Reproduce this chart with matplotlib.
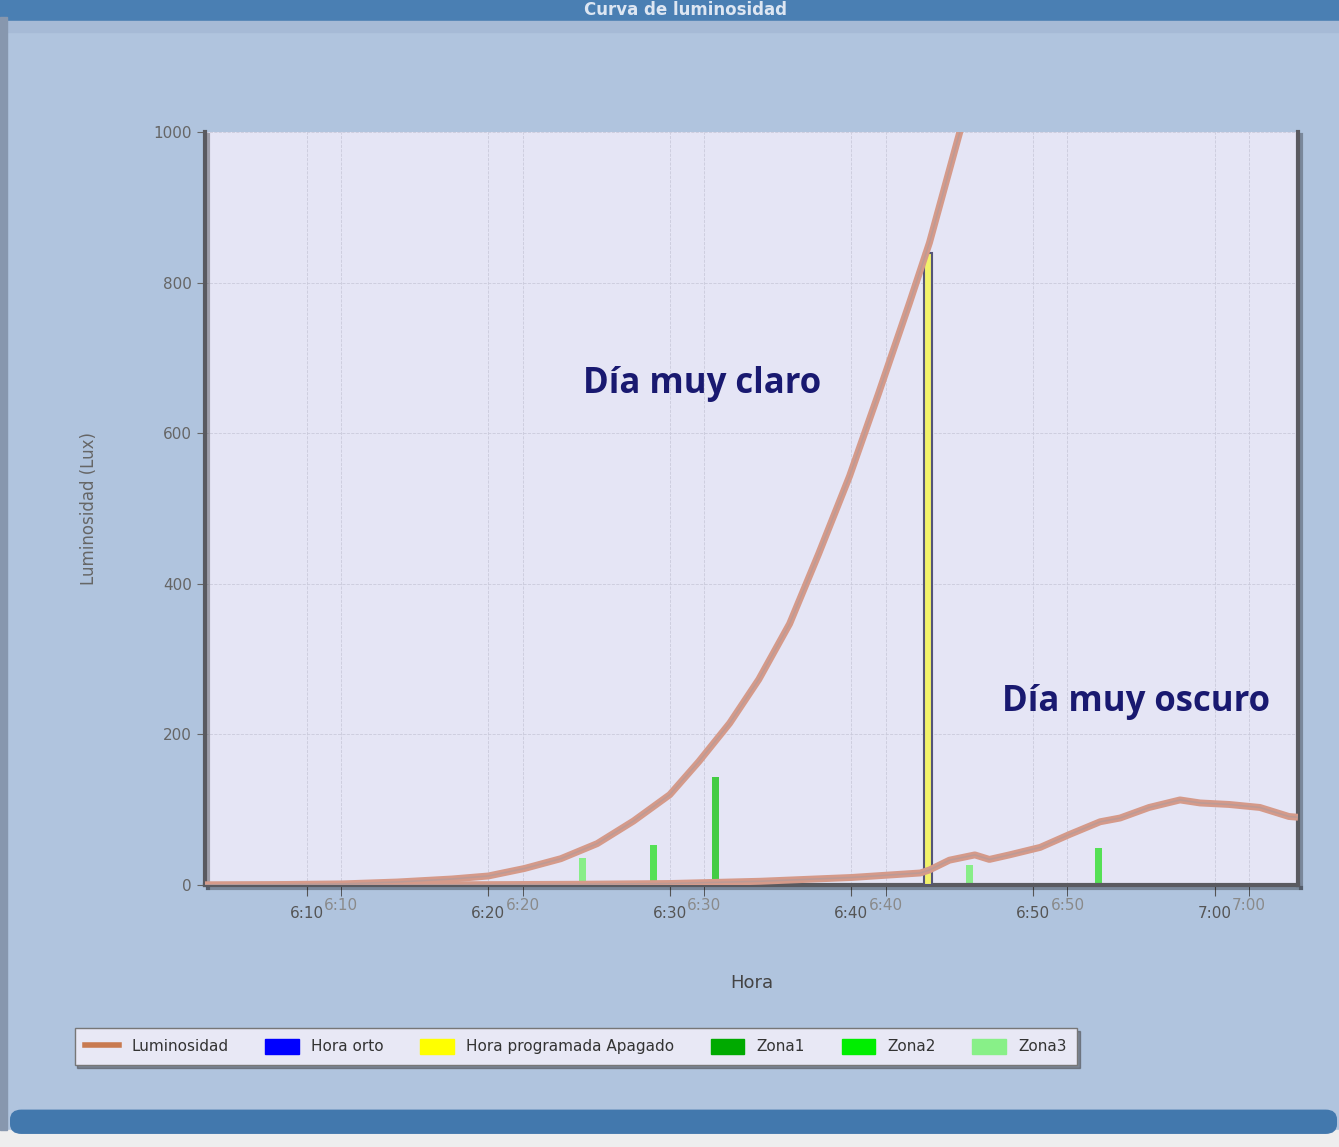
import matplotlib
import matplotlib.pyplot as plt
from matplotlib.patches import Rectangle, FancyBboxPatch, Patch
from matplotlib.lines import Line2D
import matplotlib.patheffects as pe

matplotlib.use("Agg")

# minutes after 6:00
claro_t = [4.4, 8, 12, 15, 18, 20, 22, 24, 26, 28, 30, 31.6, 33.3, 34.9, 36.6, 38.2, 39.9, 41.5, 43.2, 44.3, 46.2]
claro_v = [0, 0.5, 1.5, 4, 8, 12, 22, 35, 55, 85, 120, 164, 215, 273, 347, 440, 543, 653, 773, 853, 1020]

oscuro_t = [4.4, 15, 25, 30, 35, 38, 40, 43.8, 44.3, 45.4, 46.8, 47.6, 48.7, 50.4, 52.0, 53.7, 54.8, 56.4, 58.1, 59.2, 60.8, 62.5, 64.1, 64.6]
oscuro_v = [0, 0, 1, 2, 5, 8, 10, 16, 20, 33, 40, 34, 40, 50, 67, 84, 89, 103, 113, 109, 107, 103, 91, 90]

zona1_t = [32.5]
zona1_v = [144]
zona2_t = [29.1, 53.6]
zona2_v = [53, 49]
zona3_t = [25.2, 46.5]
zona3_v = [36, 27]
apagado_t = [44.2]
apagado_v = [840]

tick_min = [10, 20, 30, 40, 50, 60]
tick_lbl = ["6:10", "6:20", "6:30", "6:40", "6:50", "7:00"]
shift = 1.9  # second overlaid chart is offset a bit

bg = "#b0c4de"
fig = plt.figure(figsize=(13.39, 11.47), dpi=100, facecolor=bg)

# frame decorations
fig.patches.append(Rectangle((0, 0.982), 1, 0.02, transform=fig.transFigure, color="#4a7fb3", zorder=0))
fig.patches.append(Rectangle((0, 0.972), 1, 0.01, transform=fig.transFigure, color="#a6bad6", zorder=0))
fig.patches.append(Rectangle((0, 0), 1, 0.015, transform=fig.transFigure, color="#eeeeee", zorder=0))
fig.patches.append(FancyBboxPatch((0.008, 0.012), 0.99, 0.02, boxstyle="round,pad=0.0,rounding_size=0.008",
                                  transform=fig.transFigure, color="#4278ad", zorder=0))
fig.patches.append(Rectangle((0, 0.015), 0.005, 0.97, transform=fig.transFigure, color="#8797ae", zorder=0))
fig.text(0.512, 0.9915, "Curva de luminosidad", color="#dde6f2", fontsize=12, fontweight="bold",
         ha="center", va="center")

ax = fig.add_axes([0.1531, 0.2284, 0.8163, 0.6565])
ax.set_facecolor("#e5e5f5")

ax.bar(zona3_t, zona3_v, width=0.4, color="#88ee88", zorder=2)
ax.bar(zona2_t, zona2_v, width=0.4, color="#55e055", zorder=2)
ax.bar(zona1_t, zona1_v, width=0.4, color="#44cc44", zorder=2)
ax.bar(apagado_t, apagado_v, width=0.45, color="#f2f26a", edgecolor="#555577", linewidth=1.5, zorder=3)

for t, v in [(claro_t, claro_v), (oscuro_t, oscuro_v)]:
    ax.plot(t, v, color="#d59a8a", linewidth=5, zorder=4, solid_capstyle="butt")
    ax.plot(t, v, color="#b49a9a", linewidth=1.2, zorder=5, alpha=0.7)

ax.set_xlim(4.4, 64.6)
ax.set_ylim(0, 1000)
ax.set_yticks([0, 200, 400, 600, 800, 1000])
ax.set_xticks(tick_min)
ax.set_xticklabels(tick_lbl)
ax.set_xticks([m + shift for m in tick_min], minor=True)
ax.grid(True, which="both", color="#cacadb", linestyle="--", linewidth=0.6)
ax.tick_params(axis="x", which="major", colors="#555555", labelsize=11, length=8, pad=7, direction="out")
ax.tick_params(axis="x", which="minor", colors="#444444", length=8, direction="out")
ax.tick_params(axis="y", colors="#666666", labelsize=11, length=6)

sec = ax.secondary_xaxis("bottom")
sec.set_xticks([m + shift for m in tick_min])
sec.set_xticklabels(tick_lbl)
sec.tick_params(colors="#8a8a8a", labelsize=11, length=0, pad=9)
sec.spines["bottom"].set_visible(False)

for s in ["left", "bottom", "right"]:
    ax.spines[s].set_color("#5a5a60")
    ax.spines[s].set_linewidth(3)
    ax.spines[s].set_path_effects([pe.SimpleLineShadow(offset=(2, -2), alpha=0.3), pe.Normal()])
ax.spines["top"].set_visible(False)

ax.set_xlabel("Hora", color="#444444", fontsize=13, labelpad=38)
ax.set_ylabel("Luminosidad (Lux)", color="#666666", fontsize=12, labelpad=40)

ax.text(25.2, 665, "Día muy claro", color="#191970", fontsize=25, fontweight="bold",
        family=["Open Sans", "DejaVu Sans"], ha="left", va="center")
ax.text(48.3, 243, "Día muy oscuro", color="#191970", fontsize=25, fontweight="bold",
        family=["Open Sans", "DejaVu Sans"], ha="left", va="center")

handles = [
    Line2D([0], [0], color="#c87a50", linewidth=4),
    Patch(color="#0000ff"),
    Patch(color="#ffff00"),
    Patch(color="#00aa00"),
    Patch(color="#00ee00"),
    Patch(color="#88f088"),
]
labels = ["Luminosidad", "Hora orto", "Hora programada Apagado", "Zona1", "Zona2", "Zona3"]
leg = fig.legend(handles, labels, loc="center left", bbox_to_anchor=(0.05, 0.0875), ncol=6,
                 fontsize=11, frameon=True, fancybox=False, shadow=True, facecolor="#e8e8f5",
                 edgecolor="#777777", handlelength=2.2, handleheight=1.1, columnspacing=2.4,
                 borderpad=0.7)
for txt in leg.get_texts():
    txt.set_color("#333333")

fig.savefig("out.png", dpi=100, facecolor=bg)
